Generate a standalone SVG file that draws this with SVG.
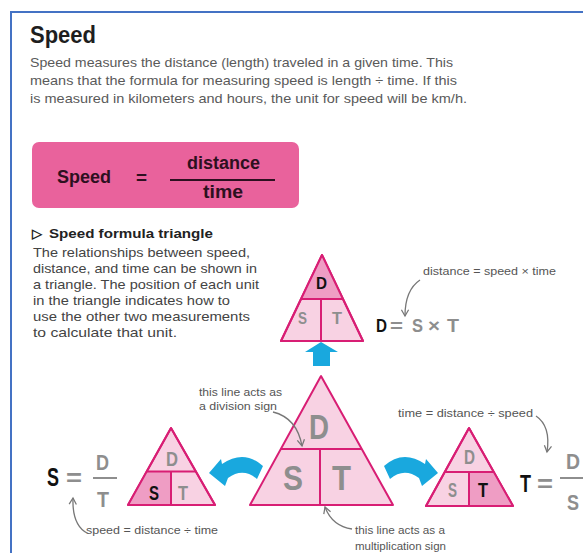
<svg xmlns="http://www.w3.org/2000/svg" width="583" height="553" viewBox="0 0 583 553">
<defs>
<style>
.t{font-family:"Liberation Sans",Arial,sans-serif}
.title{font-size:23px;font-weight:bold;fill:#1e1e1e}
.para{font-size:13px;fill:#5a5a5a}
.body{font-size:13px;fill:#444}
.head{font-size:13px;font-weight:bold;fill:#222}
.box{font-size:18px;font-weight:bold;fill:#2d1020}
.ann{font-size:10.5px;fill:#555}
.lg{font-weight:bold;fill:#8e8e8e}
.lb{font-weight:bold;fill:#111}
.tri{fill:#f8d2e3;stroke:#d81e74;stroke-width:2;stroke-linejoin:round}
.cell{fill:#ef9dc4}
.ln{stroke:#d81e74;stroke-width:2;fill:none}
.blue{fill:#19a8de}
.ga{fill:none;stroke:#777;stroke-width:1.3;marker-end:url(#vh)}
</style>
<marker id="vh" viewBox="0 0 10 10" refX="8" refY="5" markerWidth="9" markerHeight="9" markerUnits="userSpaceOnUse" orient="auto">
<path d="M1 1 L8 5 L1 9" fill="none" stroke="#777" stroke-width="1.4"/>
</marker>
</defs>
<rect x="0" y="0" width="583" height="553" fill="#fff"/>
<rect x="11" y="12" width="620" height="600" fill="none" stroke="#4472c4" stroke-width="2"/>

<g id="header">
<text class="t title" x="30" y="43" textLength="66" lengthAdjust="spacingAndGlyphs">Speed</text>
<text class="t para" x="30" y="67" textLength="423" lengthAdjust="spacingAndGlyphs">Speed measures the distance (length) traveled in a given time. This</text>
<text class="t para" x="30" y="85" textLength="427" lengthAdjust="spacingAndGlyphs">means that the formula for measuring speed is length ÷ time. If this</text>
<text class="t para" x="30" y="103" textLength="437" lengthAdjust="spacingAndGlyphs">is measured in kilometers and hours, the unit for speed will be km/h.</text>
</g>

<g id="formula-box">
<rect x="32" y="142" width="267" height="66" rx="7" fill="#e9629c"/>
<text class="t box" x="57" y="183" textLength="54" lengthAdjust="spacingAndGlyphs">Speed</text>
<text class="t box" x="136" y="184" textLength="11" lengthAdjust="spacingAndGlyphs">=</text>
<line x1="170" y1="180" x2="275" y2="180" stroke="#2d1020" stroke-width="2"/>
<text class="t box" x="187" y="169" textLength="73" lengthAdjust="spacingAndGlyphs">distance</text>
<text class="t box" x="203" y="198" textLength="40" lengthAdjust="spacingAndGlyphs">time</text>
</g>

<g id="description">
<text class="t head" x="32" y="238" font-weight="normal" font-family="DejaVu Sans">▷</text>
<text class="t head" x="49" y="238" textLength="164" lengthAdjust="spacingAndGlyphs">Speed formula triangle</text>
<text class="t body" x="33" y="257" textLength="217" lengthAdjust="spacingAndGlyphs">The relationships between speed,</text>
<text class="t body" x="33" y="273" textLength="224" lengthAdjust="spacingAndGlyphs">distance, and time can be shown in</text>
<text class="t body" x="33" y="289" textLength="226" lengthAdjust="spacingAndGlyphs">a triangle. The position of each unit</text>
<text class="t body" x="33" y="305" textLength="197" lengthAdjust="spacingAndGlyphs">in the triangle indicates how to</text>
<text class="t body" x="33" y="321" textLength="217" lengthAdjust="spacingAndGlyphs">use the other two measurements</text>
<text class="t body" x="33" y="337" textLength="144" lengthAdjust="spacingAndGlyphs">to calculate that unit.</text>
</g>

<g id="triangle-top">
<polygon class="tri" points="322,255 281,341 363,341"/>
<polygon class="cell" points="322,256.5 302,298 342,298"/>
<polygon points="322,255 281,341 363,341" fill="none" stroke="#d81e74" stroke-width="2" stroke-linejoin="round"/>
<line class="ln" x1="301" y1="299" x2="343" y2="299"/>
<line class="ln" x1="321" y1="299" x2="321" y2="341"/>
<text class="t lb" x="316" y="289" font-size="17" textLength="11" lengthAdjust="spacingAndGlyphs">D</text>
<text class="t lg" x="298" y="324" font-size="17" textLength="9" lengthAdjust="spacingAndGlyphs">S</text>
<text class="t lg" x="332" y="324" font-size="17" textLength="10" lengthAdjust="spacingAndGlyphs">T</text>
</g>

<g id="formula-d">
<text class="t lb" x="376" y="332" font-size="19" textLength="11" lengthAdjust="spacingAndGlyphs">D</text>
<text class="t lg" x="390" y="332" font-size="19" font-weight="normal" textLength="13" lengthAdjust="spacingAndGlyphs">=</text>
<text class="t lg" x="412" y="332" font-size="19" textLength="11" lengthAdjust="spacingAndGlyphs">S</text>
<text class="t lg" x="428" y="332" font-size="19" font-weight="normal" textLength="12" lengthAdjust="spacingAndGlyphs">×</text>
<text class="t lg" x="447" y="332" font-size="19" textLength="12" lengthAdjust="spacingAndGlyphs">T</text>
<text class="t ann" x="423" y="275" textLength="133" lengthAdjust="spacingAndGlyphs">distance = speed × time</text>
</g>

<g id="triangle-main">
<polygon class="tri" points="321,376 250,505 393,505" stroke-width="2.5"/>
<line class="ln" x1="280.5" y1="449" x2="361.5" y2="449" stroke-width="2.5"/>
<line class="ln" x1="320" y1="449" x2="320" y2="505" stroke-width="2.5"/>
<text class="t lg" x="309" y="439" font-size="35" textLength="20" lengthAdjust="spacingAndGlyphs">D</text>
<text class="t lg" x="283" y="490" font-size="35" textLength="20" lengthAdjust="spacingAndGlyphs">S</text>
<text class="t lg" x="332" y="490" font-size="35" textLength="19" lengthAdjust="spacingAndGlyphs">T</text>
</g>

<g id="triangle-left">
<polygon class="tri" points="171,428 128,505 215,505"/>
<polygon class="cell" points="146.4,471.5 171,471.5 171,505 129,505"/>
<polygon points="171,428 128,505 215,505" fill="none" stroke="#d81e74" stroke-width="2" stroke-linejoin="round"/>
<line class="ln" x1="146.4" y1="471.5" x2="195.6" y2="471.5"/>
<line class="ln" x1="171" y1="471.5" x2="171" y2="505"/>
<text class="t lg" x="166" y="466" font-size="21" textLength="12" lengthAdjust="spacingAndGlyphs">D</text>
<text class="t lb" x="149" y="500" font-size="21" textLength="10" lengthAdjust="spacingAndGlyphs">S</text>
<text class="t lg" x="178" y="500" font-size="21" textLength="10" lengthAdjust="spacingAndGlyphs">T</text>
</g>

<g id="formula-s">
<text class="t lb" x="47" y="486" font-size="25" textLength="12" lengthAdjust="spacingAndGlyphs">S</text>
<text class="t lg" x="66" y="486" font-size="24" font-weight="normal" textLength="16" lengthAdjust="spacingAndGlyphs">=</text>
<text class="t lg" x="96" y="470" font-size="22" textLength="13" lengthAdjust="spacingAndGlyphs">D</text>
<line x1="93" y1="478" x2="117" y2="478" stroke="#8e8e8e" stroke-width="2"/>
<text class="t lg" x="97" y="507" font-size="22" textLength="12" lengthAdjust="spacingAndGlyphs">T</text>
<text class="t ann" x="86" y="534" textLength="132" lengthAdjust="spacingAndGlyphs">speed = distance ÷ time</text>
</g>

<g id="triangle-right">
<polygon class="tri" points="469,428 426,506 513,506"/>
<polygon class="cell" points="469,472 493.5,472 512,505 469,505"/>
<polygon points="469,428 426,506 513,506" fill="none" stroke="#d81e74" stroke-width="2" stroke-linejoin="round"/>
<line class="ln" x1="444.5" y1="472" x2="493.5" y2="472"/>
<line class="ln" x1="469" y1="472" x2="469" y2="506"/>
<text class="t lg" x="464" y="464" font-size="20" textLength="11" lengthAdjust="spacingAndGlyphs">D</text>
<text class="t lg" x="448" y="497" font-size="20" textLength="9" lengthAdjust="spacingAndGlyphs">S</text>
<text class="t lb" x="478" y="497" font-size="20" textLength="10" lengthAdjust="spacingAndGlyphs">T</text>
</g>

<g id="formula-t">
<text class="t lb" x="520" y="492" font-size="24" textLength="11" lengthAdjust="spacingAndGlyphs">T</text>
<text class="t lg" x="537" y="492" font-size="24" font-weight="normal" textLength="16" lengthAdjust="spacingAndGlyphs">=</text>
<text class="t lg" x="566" y="469" font-size="22" textLength="14" lengthAdjust="spacingAndGlyphs">D</text>
<line x1="560" y1="478" x2="585" y2="478" stroke="#8e8e8e" stroke-width="2"/>
<text class="t lg" x="567" y="510" font-size="22" textLength="12" lengthAdjust="spacingAndGlyphs">S</text>
<text class="t ann" x="398" y="417" textLength="135" lengthAdjust="spacingAndGlyphs">time = distance ÷ speed</text>
</g>

<g id="labels">
<text class="t ann" x="199" y="396" textLength="83" lengthAdjust="spacingAndGlyphs">this line acts as</text>
<text class="t ann" x="199" y="410" textLength="78" lengthAdjust="spacingAndGlyphs">a division sign</text>
<text class="t ann" x="355" y="534" textLength="90" lengthAdjust="spacingAndGlyphs">this line acts as a</text>
<text class="t ann" x="355" y="550" textLength="91" lengthAdjust="spacingAndGlyphs">multiplication sign</text>
</g>

<g id="connectors">
<polygon class="blue" points="321,342 338,352 330,352 330,366 313,366 313,352 305,352"/>
<path class="blue" d="M209 473 L221 459 L222 464 Q244 449 263 466 L257 479 Q243 467 228 478 L225 486 Z"/>
<path class="blue" transform="translate(647,0) scale(-1,1)" d="M209 473 L221 459 L222 464 Q244 449 263 466 L257 479 Q243 467 228 478 L225 486 Z"/>
<path class="ga" d="M273 412 Q297 418 302 446"/>
<path class="ga" d="M352 529 Q332 526 325 507"/>
<path class="ga" d="M420 280 Q405 290 405 316"/>
<path class="ga" d="M536 416 Q551 426 547 452"/>
<path class="ga" d="M87 533 Q72 525 73 498"/>
</g>
</svg>
